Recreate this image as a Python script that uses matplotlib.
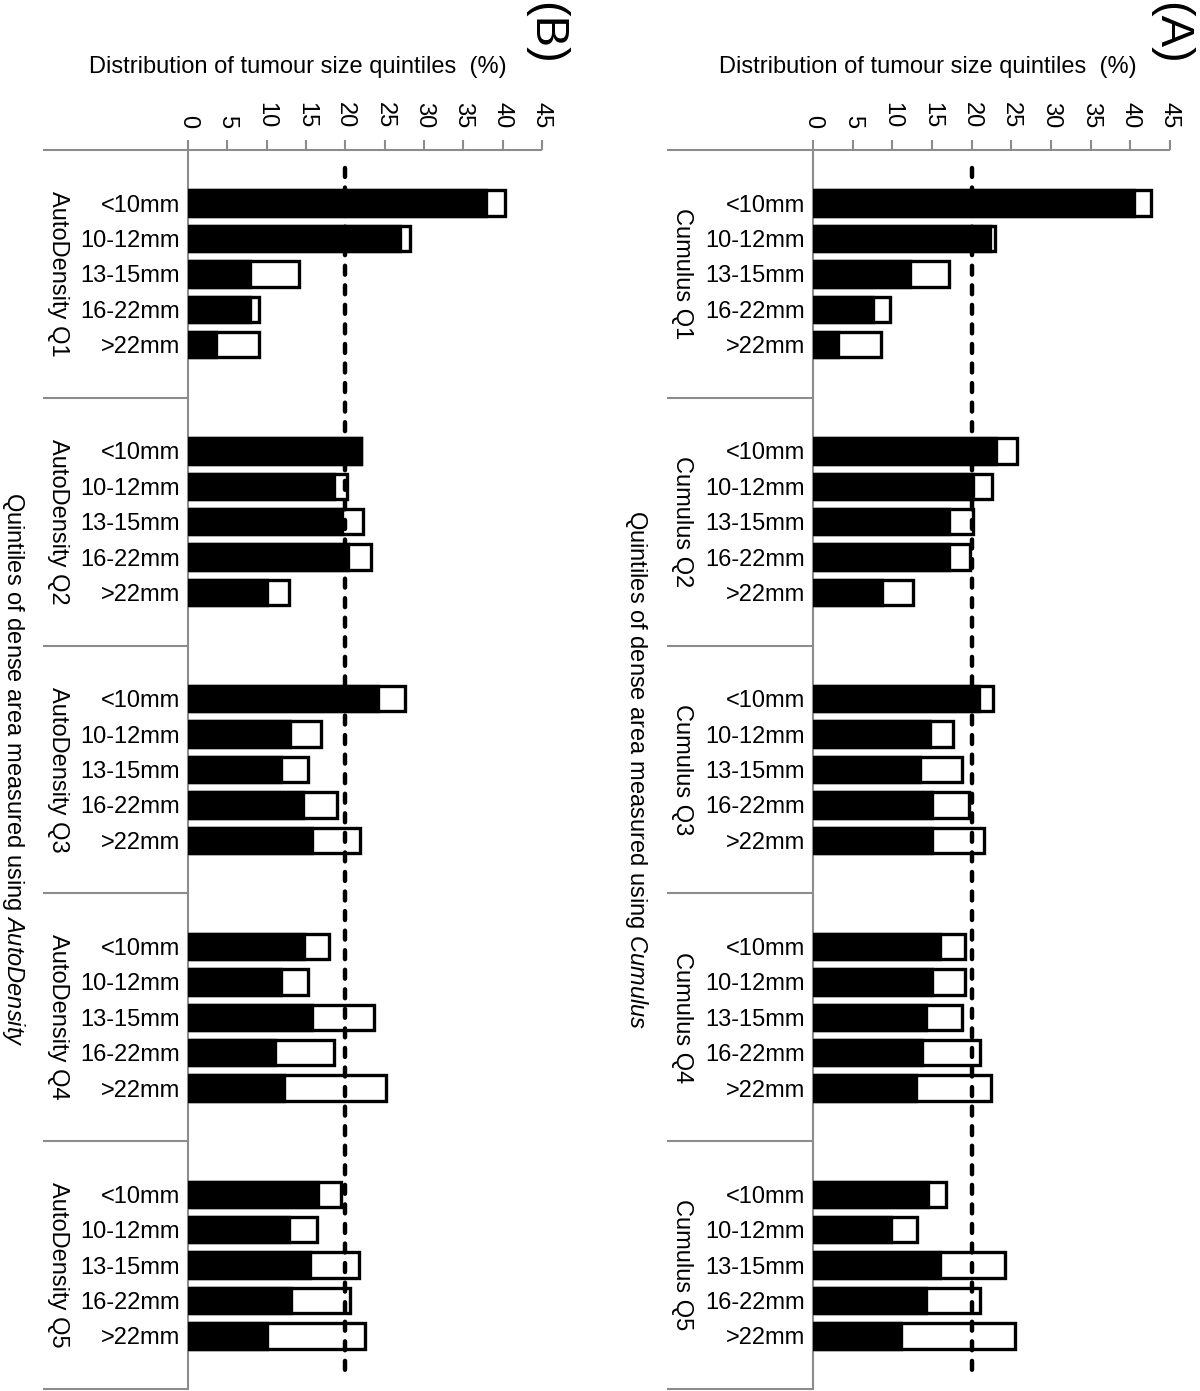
import matplotlib
matplotlib.use("Agg")
import matplotlib.pyplot as plt
import matplotlib.transforms as mtransforms
import numpy as np

plt.rcParams['font.family'] = ['Liberation Sans', 'DejaVu Sans']
plt.rcParams['mathtext.fontset'] = 'custom'
plt.rcParams['mathtext.rm'] = 'Liberation Sans'
plt.rcParams['mathtext.it'] = 'Liberation Sans:italic'

# ---------------- data ----------------
size_labels = ["<10mm", "10-12mm", "13-15mm", "16-22mm", ">22mm"]
ticks = [0, 5, 10, 15, 20, 25, 30, 35, 40, 45]
reference_line = 20

cumulus_groups = ["Cumulus Q1", "Cumulus Q2", "Cumulus Q3", "Cumulus Q4", "Cumulus Q5"]
cumulus_black = [
    [40.5, 22.3, 12.2, 7.6, 3.1],
    [23.1, 20.2, 17.1, 17.1, 8.7],
    [20.9, 14.7, 13.5, 15.0, 15.0],
    [16.0, 15.0, 14.3, 13.7, 13.0],
    [14.5, 9.8, 16.0, 14.2, 11.1],
]
cumulus_total = [
    [42.6, 22.9, 17.1, 9.7, 8.6],
    [25.7, 22.5, 20.2, 19.8, 12.6],
    [22.7, 17.6, 18.8, 19.7, 21.5],
    [19.1, 19.1, 18.8, 21.1, 22.4],
    [16.8, 13.1, 24.2, 21.1, 25.5],
]

auto_groups = ["AutoDensity Q1", "AutoDensity Q2", "AutoDensity Q3", "AutoDensity Q4", "AutoDensity Q5"]
auto_black = [
    [37.9, 27.0, 7.9, 7.9, 3.5],
    [22.0, 18.6, 19.6, 20.3, 10.1],
    [24.1, 13.0, 11.8, 14.6, 15.8],
    [14.7, 11.8, 15.8, 11.0, 12.2],
    [16.5, 12.9, 15.5, 13.1, 10.1],
]
auto_total = [
    [40.3, 28.2, 14.1, 9.0, 9.0],
    [22.0, 20.2, 22.3, 23.3, 12.9],
    [27.6, 16.9, 15.3, 19.0, 21.9],
    [17.9, 15.3, 23.7, 18.6, 25.2],
    [19.5, 16.4, 21.7, 20.6, 22.5],
]

x_title = "Distribution of tumour size quintiles  (%)"

# ---------------- figure ----------------
W, H = 1200, 1391
fig = plt.figure(figsize=(W / 100, H / 100), dpi=100)

GRAY = "#8c8c8c"
FS = 17
SLOTS = 7  # 5 bars + blank slot on each side per group


def px(x, y):
    return x / W, 1 - y / H


def panel(x0, x1, groups, black, total, method, letter, letter_x, title_x):
    top, bot = 150, 1389
    ax = fig.add_axes([x0 / W, 1 - bot / H, (x1 - x0) / W, (bot - top) / H])
    ng = len(groups)
    nslots = ng * SLOTS
    ax.set_xlim(ticks[0], ticks[-1])
    ax.set_ylim(nslots - 0.5, -0.5)

    ypos, labels = [], []
    for g in range(ng):
        pos = [g * SLOTS + 1 + k for k in range(len(size_labels))]
        ax.barh(pos, total[g], height=0.72, color="white", edgecolor="black",
                linewidth=2.4, zorder=2)
        ax.barh(pos, black[g], height=0.72, color="black", edgecolor="black",
                linewidth=2.4, zorder=3)
        ypos += pos
        labels += size_labels

    # reference dashed line
    ys = np.arange(nslots)
    ax.plot([reference_line] * len(ys), ys, color="black", lw=3.2,
            ls=(0, (2.0, 2.4)), dash_capstyle="round", zorder=5)

    for s in ["right", "bottom"]:
        ax.spines[s].set_visible(False)
    ax.spines["left"].set_color(GRAY)
    ax.spines["left"].set_linewidth(1.5)
    ax.spines["top"].set_visible(False)

    ax.xaxis.tick_top()
    ax.set_xticks(ticks)
    ax.set_xticklabels([str(t) for t in ticks], rotation=-90, fontsize=17)
    ax.tick_params(axis="x", direction="out", length=7, width=1.5, color=GRAY,
                   pad=9)
    ax.set_yticks(ypos)
    ax.set_yticklabels(labels, fontsize=FS)
    ax.tick_params(axis="y", length=0, pad=6)

    tr = mtransforms.blended_transform_factory(ax.transAxes, ax.transData)
    ext = -0.41
    # top axis line (extended) and group separators
    ax.plot([ext, 1.0], [-0.5, -0.5], color=GRAY, lw=1.5, transform=tr,
            clip_on=False, solid_capstyle="butt", zorder=6)
    for g in range(1, ng + 1):
        yb = g * SLOTS - 0.5
        ax.plot([ext, 0], [yb, yb], color=GRAY, lw=1.5, transform=tr,
                clip_on=False, solid_capstyle="butt")
    # group labels
    for g, name in enumerate(groups):
        ax.text(-0.368, g * SLOTS + 3, name, transform=tr, rotation=-90,
                ha="center", va="center", fontsize=FS)
    # vertical axis title
    ax.text(-0.494, 0.5, "Quintiles of dense area measured using $\\it{" + method + "}$",
            transform=ax.transAxes, rotation=-90, ha="center", va="center",
            fontsize=FS)
    # top title
    fig.text(*px(title_x, 67), x_title, ha="center", va="center", fontsize=FS)
    fig.text(*px(letter_x, 33), letter, ha="center", va="center", fontsize=34,
             rotation=-90)
    return ax


panel(813, 1170, cumulus_groups, cumulus_black, cumulus_total, "Cumulus", "(A)", 1170, 928)
panel(188, 542, auto_groups, auto_black, auto_total, "AutoDensity", "(B)", 545, 298)

fig.savefig("out.png", dpi=100)
